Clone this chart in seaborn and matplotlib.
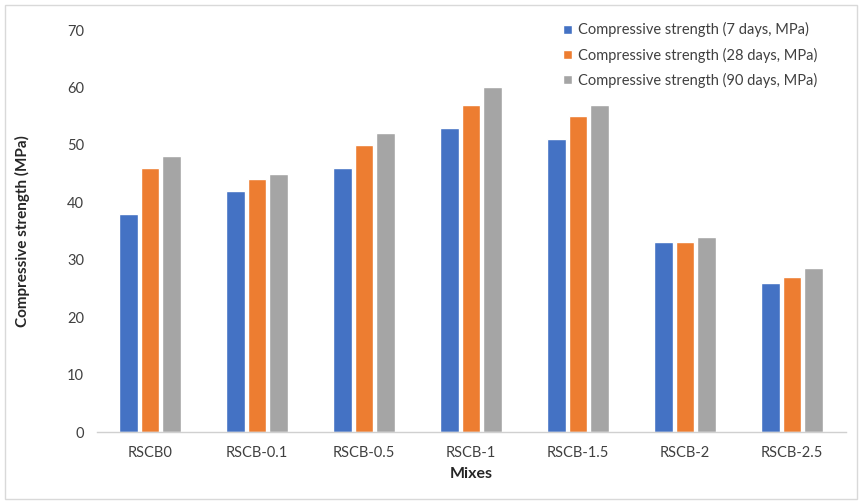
import matplotlib
matplotlib.use("Agg")
import matplotlib.pyplot as plt
from matplotlib.patches import Rectangle
import seaborn as sns
import pandas as pd

mixes = ["RSCB0", "RSCB-0.1", "RSCB-0.5", "RSCB-1", "RSCB-1.5", "RSCB-2", "RSCB-2.5"]
series_names = [
    "Compressive strength (7 days, MPa)",
    "Compressive strength (28 days, MPa)",
    "Compressive strength (90 days, MPa)",
]
strength_7d = [38, 42, 46, 53, 51, 33, 26]
strength_28d = [46, 44, 50, 57, 55, 33, 27]
strength_90d = [48, 45, 52, 60, 57, 34, 28.5]
colors = ["#4472C4", "#ED7D31", "#A5A5A5"]

rows = []
for name, vals in zip(series_names, [strength_7d, strength_28d, strength_90d]):
    for m, v in zip(mixes, vals):
        rows.append({"Mix": m, "Series": name, "Strength": v})
df = pd.DataFrame(rows)

sns.set_theme(style="white")
plt.rcParams["font.family"] = ["Lato", "DejaVu Sans"]

fig = plt.figure(figsize=(8.62, 5.04), dpi=100)
ax = fig.add_axes([96.5 / 862, (504 - 432) / 504, (845.5 - 96.5) / 862, (432 - 30) / 504])

sns.barplot(data=df, x="Mix", y="Strength", hue="Series", order=mixes,
            hue_order=series_names, palette=colors, width=0.6, gap=0.12,
            saturation=1, ax=ax, errorbar=None)

ax.set_ylim(0, 70)
ax.set_xlim(-0.5, 6.5)
ax.set_yticks(range(0, 71, 10))
ax.tick_params(axis="both", labelsize=10.5, length=0)
ax.tick_params(axis="x", pad=10)
ax.tick_params(axis="y", pad=9)
for lbl in ax.get_xticklabels() + ax.get_yticklabels():
    lbl.set_color("#404040")

for side in ["top", "right", "left"]:
    ax.spines[side].set_visible(False)
ax.spines["bottom"].set_color("#D0D0D0")
ax.spines["bottom"].set_linewidth(1)

ax.set_xlabel("Mixes", fontsize=11.5, fontweight="bold", color="#262626", labelpad=5)
ax.set_ylabel("Compressive strength (MPa)", fontsize=11, fontweight="bold", color="#262626", labelpad=26.5)

leg = ax.legend(loc="upper right", bbox_to_anchor=(0.98, 1.052), frameon=False,
                fontsize=10.5, handlelength=0.6, handleheight=0.6,
                handletextpad=0.4, labelspacing=0.7)
for t in leg.get_texts():
    t.set_color("#404040")

fig.patches.append(Rectangle((5 / 862, 5 / 504), 852 / 862, 494 / 504,
                             transform=fig.transFigure, fill=False,
                             edgecolor="#D9D9D9", linewidth=1))

fig.savefig("out.png", dpi=100)
